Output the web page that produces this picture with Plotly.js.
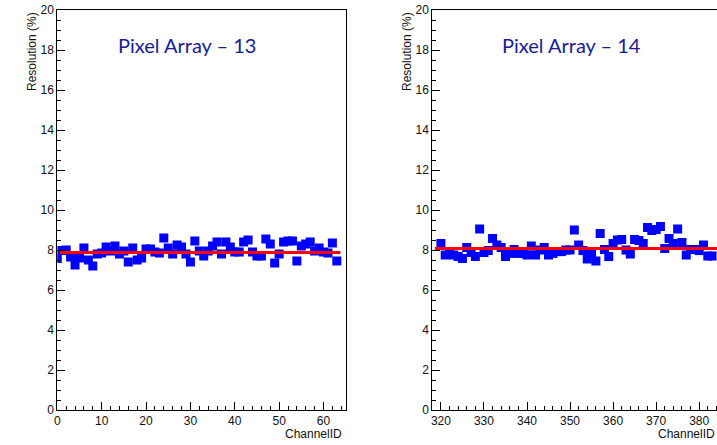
<!DOCTYPE html>
<html>
<head>
<meta charset="utf-8">
<script src="https://cdn.plot.ly/plotly-3.0.1.min.js"></script>
<style>
html,body{margin:0;padding:0;overflow:hidden;background:#fff;}
#chart{width:740px;height:445px;}
</style>
</head>
<body>
<div id="chart"></div>
<script>
// ---- data ----
const titles = ["Pixel Array \u2013 13", "Pixel Array \u2013 14"];
const chanA = Array.from({length: 64}, (_, i) => i);          // channels 0..63
const resA = [7.58, 7.98, 8.0, 7.65, 7.25, 7.6, 8.1, 7.5, 7.2, 7.8,
              7.85, 8.15, 7.95, 8.2, 7.8, 7.95, 7.4, 8.1, 7.5, 7.6,
              8.05, 8.05, 7.9, 7.85, 8.6, 8.1, 7.8, 8.25, 8.15, 7.8,
              7.4, 8.45, 7.95, 7.7, 7.95, 8.2, 8.4, 7.8, 8.4, 8.15,
              7.9, 7.9, 8.4, 8.5, 7.9, 7.7, 7.7, 8.55, 8.3, 7.35,
              7.8, 8.4, 8.45, 8.45, 7.45, 8.2, 8.3, 8.4, 7.95, 8.1,
              7.9, 7.85, 8.35, 7.45];
const chanB = Array.from({length: 64}, (_, i) => 320 + i);    // channels 320..383
const resB = [8.33, 7.75, 7.8, 7.75, 7.67, 7.58, 8.13, 7.87, 7.67, 9.05,
              7.87, 7.97, 8.58, 8.25, 8.13, 7.67, 7.83, 8.03, 7.83, 7.83,
              7.75, 8.2, 7.75, 8.0, 8.13, 7.75, 7.83, 7.92, 7.92, 8.0,
              8.0, 9.0, 8.25, 7.97, 7.55, 7.83, 7.45, 8.83, 8.03, 7.67,
              8.33, 8.5, 8.53, 8.0, 7.8, 8.53, 8.47, 8.33, 9.13, 8.97,
              9.03, 9.17, 8.08, 8.58, 8.33, 9.05, 8.37, 7.75, 8.03, 8.03,
              7.97, 8.25, 7.7, 7.7];
const fitAx = [0.6, 63.8], fitAy = [7.87, 7.87];
const fitBx = [318.6, 385], fitBy = [8.08, 8.08];
const xRangeA = [0, 65], xRangeB = [318, 385];
const yRange = [0, 20];

// ---- layout helpers ----
const W = 740, H = 445;
const px = v => v / W;
const domA = [px(57.3), px(345.7)];
const domB = [px(432.3), px(720.7)];

const blue = '#0000ff';
const markerStyle = {symbol: 'square', size: 9, color: blue, line: {width: 0}};
const lineStyle = {color: '#ff0000', width: 3};

const traces = [
  {x: chanA, y: resA, type: 'scatter', mode: 'markers', marker: markerStyle, xaxis: 'x', yaxis: 'y', showlegend: false},
  {x: fitAx, y: fitAy, type: 'scatter', mode: 'lines', line: lineStyle, xaxis: 'x', yaxis: 'y', showlegend: false},
  {x: chanB, y: resB, type: 'scatter', mode: 'markers', marker: markerStyle, xaxis: 'x2', yaxis: 'y2', showlegend: false},
  {x: fitBx, y: fitBy, type: 'scatter', mode: 'lines', line: lineStyle, xaxis: 'x2', yaxis: 'y2', showlegend: false}
];

const tickFont = {family: '"Liberation Sans", Arial, sans-serif', size: 12, color: '#111'};
function xax(dom, rng, anchor) {
  return {domain: dom, range: rng, anchor: anchor, showgrid: false, zeroline: false,
    showline: true, linecolor: '#000', linewidth: 1, mirror: true,
    ticks: 'inside', ticklen: 8, tickcolor: '#000', dtick: 10, tick0: 0,
    minor: {ticks: 'inside', ticklen: 4, dtick: 2, tickcolor: '#000'},
    tickfont: tickFont, fixedrange: true};
}
function yax(rng, anchor) {
  return {domain: [0, 1], range: rng, anchor: anchor, showgrid: false, zeroline: false,
    showline: true, linecolor: '#000', linewidth: 1, mirror: true,
    ticks: 'inside', ticklen: 8, tickcolor: '#000', dtick: 2, tick0: 0,
    minor: {ticks: 'inside', ticklen: 4, dtick: 0.5, tickcolor: '#000'},
    tickfont: tickFont, ticklabelstandoff: 0, fixedrange: true};
}

const titleFont = {family: 'Lato, "Noto Sans", sans-serif', size: 20, color: '#1a1a9c'};
const labFont = {family: '"Liberation Sans", Arial, sans-serif', size: 12, color: '#111'};
const annotations = [
  {text: titles[0], xref: 'paper', yref: 'paper', x: px(187), y: 1 - 35 / 400, xanchor: 'center', yanchor: 'middle', showarrow: false, font: titleFont},
  {text: titles[1], xref: 'paper', yref: 'paper', x: px(571), y: 1 - 35 / 400, xanchor: 'center', yanchor: 'middle', showarrow: false, font: titleFont},
  {text: 'Resolution (%)', textangle: -90, xref: 'paper', yref: 'paper', x: px(31.5), y: 1, xanchor: 'center', yanchor: 'top', showarrow: false, font: labFont},
  {text: 'Resolution (%)', textangle: -90, xref: 'paper', yref: 'paper', x: px(406.5), y: 1, xanchor: 'center', yanchor: 'top', showarrow: false, font: labFont},
  {text: 'ChannelID', xref: 'paper', yref: 'paper', x: px(344), y: -33 / 400, xanchor: 'right', yanchor: 'bottom', showarrow: false, font: labFont},
  {text: 'ChannelID', xref: 'paper', yref: 'paper', x: px(717), y: -33 / 400, xanchor: 'right', yanchor: 'bottom', showarrow: false, font: labFont}
];

const layout = {
  width: W, height: H,
  margin: {l: 0, r: 0, t: 10, b: 35},
  paper_bgcolor: '#fff', plot_bgcolor: '#fff',
  xaxis: xax(domA, xRangeA, 'y'),
  yaxis: yax(yRange, 'x'),
  xaxis2: xax(domB, xRangeB, 'y2'),
  yaxis2: yax(yRange, 'x2'),
  annotations: annotations,
  showlegend: false
};

Plotly.newPlot('chart', traces, layout, {displayModeBar: false, staticPlot: true});
</script>
</body>
</html>
